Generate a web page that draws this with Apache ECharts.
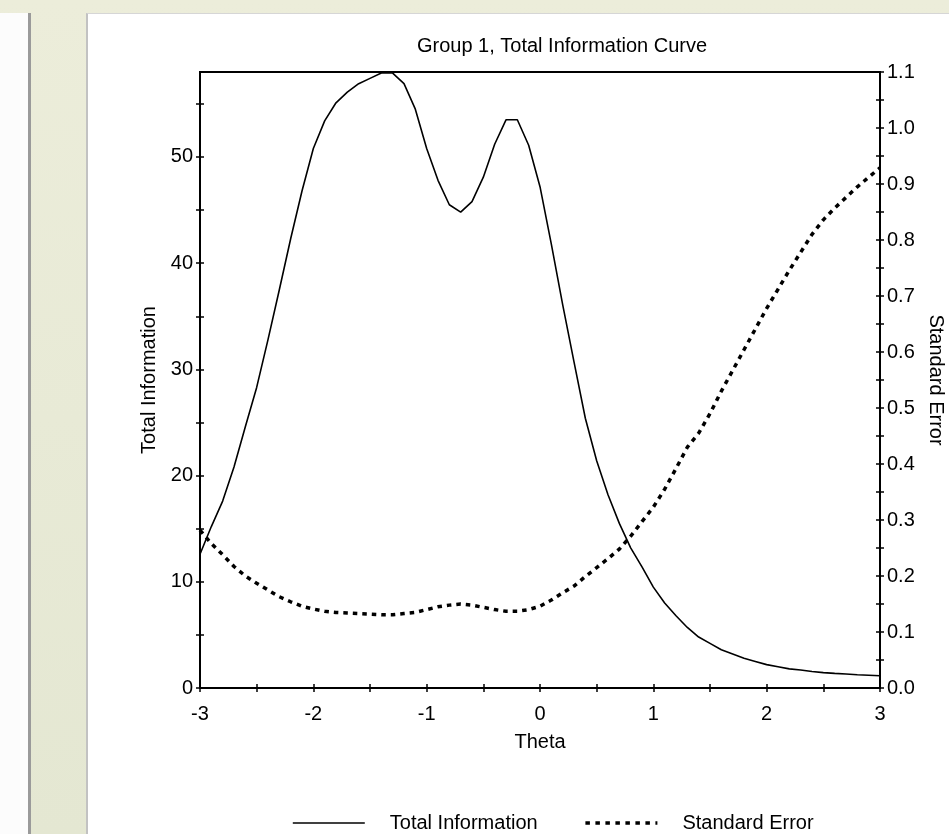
<!DOCTYPE html>
<html>
<head>
    <meta charset="utf-8">
    <title>Group 1, Total Information Curve</title>
    <script src="https://cdn.jsdelivr.net/npm/echarts@6.0.0/dist/echarts.min.js"></script>
    <style>
        html, body { margin: 0; padding: 0; }
        body {
            width: 949px; height: 834px; overflow: hidden; position: relative;
            background: linear-gradient(#ecedda, #e4e7d2);
        }
        #leftPanel {
            position: absolute; left: 0; top: 13px; width: 28px; height: 821px;
            background: #fcfcfc;
            border-right: 3px solid #9a9a9a;
        }
        #page {
            position: absolute; left: 86px; top: 13px; width: 863px; height: 821px;
            background: #ffffff;
            border-left: 2px solid #c2c2c2;
            border-top: 1px solid #d6d6d6;
        }
        #mainChart { position: absolute; left: 0; top: 0; width: 949px; height: 834px; }
    </style>
</head>
<body>
    <div id="leftPanel"></div>
    <div id="page"></div>
    <div id="mainChart"></div>

<script>
// theta grid (x)
const theta = [
    -3.0, -2.9, -2.8, -2.7, -2.6, -2.5, -2.4, -2.3, -2.2, -2.1,
    -2.0, -1.9, -1.8, -1.7, -1.6, -1.5, -1.4, -1.3, -1.2, -1.1,
    -1.0, -0.9, -0.8, -0.7, -0.6, -0.5, -0.4, -0.3, -0.2, -0.1,
    0.0, 0.1, 0.2, 0.3, 0.4, 0.5, 0.6, 0.7, 0.8, 0.9,
    1.0, 1.1, 1.2, 1.3, 1.4, 1.5, 1.6, 1.7, 1.8, 1.9,
    2.0, 2.1, 2.2, 2.3, 2.4, 2.5, 2.6, 2.7, 2.8, 2.9, 3.0
];

// Total Information (left axis)
const totalInfo = [
    12.6, 15.2, 17.6, 20.8, 24.6, 28.3, 32.8, 37.5, 42.3, 46.8,
    50.8, 53.4, 55.1, 56.1, 56.9, 57.4, 57.9, 57.9, 56.9, 54.5,
    50.8, 47.8, 45.5, 44.8, 45.8, 48.1, 51.2, 53.5, 53.5, 51.1,
    47.2, 41.8, 36.1, 30.7, 25.4, 21.4, 18.2, 15.5, 13.2, 11.4,
    9.5, 8.0, 6.8, 5.7, 4.8, 4.2, 3.6, 3.2, 2.8, 2.5,
    2.2, 2.0, 1.8, 1.7, 1.55, 1.45, 1.38, 1.32, 1.25, 1.2, 1.15
];

// Standard Error (right axis)
const stdError = [
    0.282, 0.258, 0.238, 0.217, 0.200, 0.187, 0.175, 0.163, 0.154, 0.146,
    0.141, 0.137, 0.135, 0.134, 0.133, 0.132, 0.131, 0.131, 0.133, 0.135,
    0.140, 0.145, 0.148, 0.150, 0.148, 0.144, 0.140, 0.137, 0.137, 0.140,
    0.146, 0.157, 0.170, 0.182, 0.199, 0.215, 0.231, 0.248, 0.271, 0.297,
    0.323, 0.355, 0.392, 0.430, 0.455, 0.490, 0.530, 0.567, 0.604, 0.641,
    0.678, 0.712, 0.746, 0.778, 0.810, 0.836, 0.857, 0.876, 0.895, 0.912, 0.929
];

// ticks and labels
const xTicks = [-3, -2.5, -2, -1.5, -1, -0.5, 0, 0.5, 1, 1.5, 2, 2.5, 3];
const xLabels = [-3, -2, -1, 0, 1, 2, 3];
const infoTicks = [0, 5, 10, 15, 20, 25, 30, 35, 40, 45, 50, 55];
const infoLabels = [0, 10, 20, 30, 40, 50];
const seTicks = [0, 0.05, 0.1, 0.15, 0.2, 0.25, 0.3, 0.35, 0.4, 0.45, 0.5, 0.55,
    0.6, 0.65, 0.7, 0.75, 0.8, 0.85, 0.9, 0.95, 1.0, 1.05, 1.1];
const seLabels = [0, 0.1, 0.2, 0.3, 0.4, 0.5, 0.6, 0.7, 0.8, 0.9, 1.0, 1.1];

const FONT = '"Liberation Sans", Arial, sans-serif';
const chart = echarts.init(document.getElementById('mainChart'));

const tickStyle = { color: '#000', width: 1.5 };
const labelStyle = { color: '#000', fontSize: 20, fontFamily: FONT };

// one axis draws ticks outside, a twin draws them inside -> crossing ticks
function xAxisOf(inside) {
    return {
        type: 'value', min: -3, max: 3, position: 'bottom',
        axisLine: { show: !inside, onZero: false, lineStyle: { color: '#000', width: 2 } },
        axisTick: { show: true, inside: inside, length: 4, customValues: xTicks, lineStyle: tickStyle },
        axisLabel: { show: !inside, customValues: xLabels, margin: 16, ...labelStyle },
        splitLine: { show: false },
        name: inside ? '' : 'Theta',
        nameLocation: 'middle', nameGap: 44,
        nameTextStyle: { ...labelStyle }
    };
}

function yAxisOf(side, max, ticks, labels, inside, name, gap, fmt) {
    return {
        type: 'value', min: 0, max: max, position: side,
        axisLine: { show: !inside, onZero: false, lineStyle: { color: '#000', width: 2 } },
        axisTick: { show: true, inside: inside, length: 4, customValues: ticks, lineStyle: tickStyle },
        axisLabel: { show: !inside, customValues: labels, margin: 7, formatter: fmt, ...labelStyle },
        splitLine: { show: false },
        name: inside ? '' : name,
        nameLocation: 'middle', nameGap: gap,
        nameRotate: side === 'left' ? 90 : -90,
        nameTextStyle: { ...labelStyle }
    };
}

const option = {
    backgroundColor: 'transparent',
    animation: false,
    title: {
        text: 'Group 1, Total Information Curve',
        left: 557, top: 31, textAlign: 'center',
        textStyle: { color: '#000', fontSize: 20, fontWeight: 'normal', fontFamily: FONT }
    },
    legend: {
        left: 292, top: 813, padding: 0,
        itemWidth: 72, itemHeight: 14, itemGap: 46,
        itemStyle: { opacity: 0 },
        textStyle: { color: '#000', fontSize: 20, fontFamily: FONT, padding: [0, 0, 0, 20] },
        data: [
            { name: 'Total Information', lineStyle: { color: '#000', width: 1.6, type: 'solid' } },
            { name: 'Standard Error', lineStyle: { color: '#000', width: 3.5, type: [4.5, 5.5] } }
        ]
    },
    grid: {
        left: 200, right: 69, top: 72, bottom: 146,
        outerBoundsMode: 'none',
        show: true, borderColor: '#000', borderWidth: 2, backgroundColor: 'transparent'
    },
    xAxis: [xAxisOf(false), xAxisOf(true)],
    yAxis: [
        yAxisOf('left', 58, infoTicks, infoLabels, false, 'Total Information', 40, v => String(v)),
        yAxisOf('right', 1.1, seTicks, seLabels, false, 'Standard Error', 46, v => v.toFixed(1)),
        yAxisOf('left', 58, infoTicks, infoLabels, true, '', 0, v => String(v)),
        yAxisOf('right', 1.1, seTicks, seLabels, true, '', 0, v => v.toFixed(1))
    ],
    series: [
        {
            name: 'Total Information', type: 'line',
            xAxisIndex: 0, yAxisIndex: 0,
            data: theta.map((t, i) => [t, totalInfo[i]]),
            symbol: 'none', smooth: false,
            lineStyle: { color: '#000', width: 1.6, type: 'solid' },
            itemStyle: { color: '#000' }
        },
        {
            name: 'Standard Error', type: 'line',
            xAxisIndex: 0, yAxisIndex: 1,
            data: theta.map((t, i) => [t, stdError[i]]),
            symbol: 'none', smooth: false,
            lineStyle: { color: '#000', width: 3.5, type: [4.5, 5] },
            itemStyle: { color: '#000' }
        }
    ]
};

chart.setOption(option);
</script>
</body>
</html>
